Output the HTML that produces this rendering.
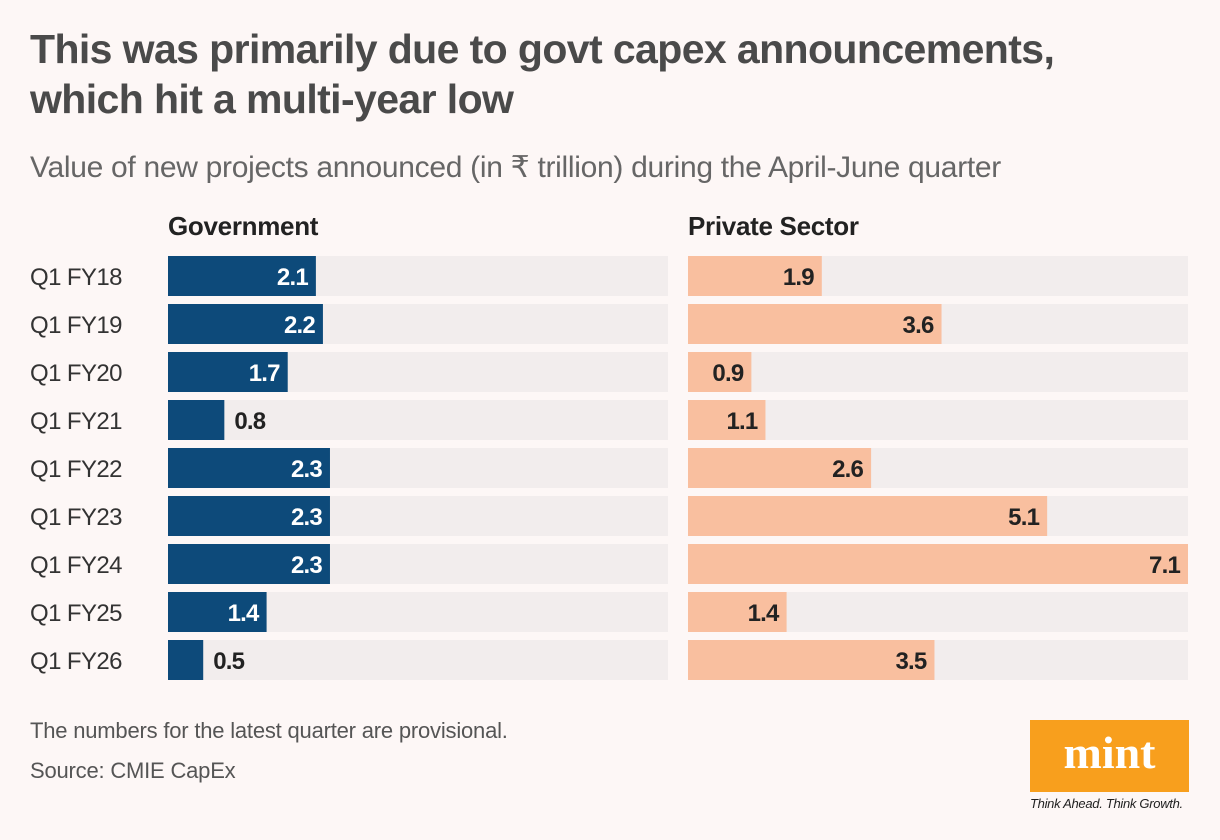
<!DOCTYPE html>
<html><head><meta charset="utf-8"><style>
body{margin:0;background:#fdf7f6;font-family:"Liberation Sans",sans-serif;}
#wrap{position:relative;width:1220px;height:840px;overflow:hidden;background:#fdf7f6;}
h1{position:absolute;left:30px;top:24px;margin:0;font-size:41px;line-height:50px;font-weight:bold;color:#4a4a4a;letter-spacing:-0.6px;white-space:nowrap;}
.sub{position:absolute;left:30px;top:150px;font-size:30px;color:#666;letter-spacing:-0.3px;white-space:nowrap;}
.note{position:absolute;left:30px;font-size:22px;color:#555;letter-spacing:-0.2px;}
</style></head><body>
<div id="wrap">
<h1>This was primarily due to govt capex announcements,<br>which hit a multi-year low</h1>
<div class="sub">Value of new projects announced (in ₹ trillion) during the April-June quarter</div>
<svg id="chart" width="1220" height="840" style="position:absolute;left:0;top:0"></svg>
<div class="note" style="top:718px">The numbers for the latest quarter are provisional.</div>
<div class="note" style="top:758px">Source: CMIE CapEx</div>
<div style="position:absolute;left:1030px;top:720px;width:159px;height:72px;background:#f89f1d;color:#fff;font-family:'Liberation Serif',serif;font-weight:bold;font-size:46px;text-align:center;line-height:66px">mint</div>
<div style="position:absolute;left:1030px;top:796px;font-size:13px;font-style:italic;color:#222;letter-spacing:-0.3px">Think Ahead. Think Growth.</div>
</div>
<script>
const categories=["Q1 FY18","Q1 FY19","Q1 FY20","Q1 FY21","Q1 FY22","Q1 FY23","Q1 FY24","Q1 FY25","Q1 FY26"];
const govValues=[2.1,2.2,1.7,0.8,2.3,2.3,2.3,1.4,0.5];
const privValues=[1.9,3.6,0.9,1.1,2.6,5.1,7.1,1.4,3.5];
const ns="http://www.w3.org/2000/svg";
const svg=document.getElementById('chart');
const maxV=Math.max(...govValues,...privValues);
const W=500,top0=256,step=48,bh=40;
const x=v=>v/maxV*W;
const y=i=>top0+i*step;
function mk(t,a){const e=document.createElementNS(ns,t);for(const k in a)e.setAttribute(k,a[k]);svg.appendChild(e);return e;}
function panel(x0,vals,title,color,tcol,name){
  const t=mk('text',{x:x0,y:235,'font-size':26,'font-weight':'bold',fill:'#222','letter-spacing':'-0.3'});t.textContent=title;
  
  
  vals.forEach((v,i)=>{
    const bg=mk('rect',{x:x0,y:y(i),width:W,height:bh,fill:'#f2eded'});
    
    
    const r=mk('rect',{x:x0,y:y(i),width:x(v),height:bh,fill:color});
    
    
    const inside=x(v)>=60;
    const l=mk('text',{x:inside?x0+x(v)-8:x0+x(v)+10,y:y(i)+29,'font-size':24,'font-weight':'bold','text-anchor':inside?'end':'start',fill:inside?tcol:'#222','letter-spacing':'-0.8'});
    l.textContent=v.toFixed(1);
    
    
  });
}
categories.forEach((c,i)=>{
  const t=mk('text',{x:30,y:y(i)+29,'font-size':24,fill:'#333','letter-spacing':'-0.6'});t.textContent=c;
  
  
});
panel(168,govValues,'Government','#0d4a7a','#fff','government');
panel(688,privValues,'Private Sector','#f9bf9f','#222','private');
</script>
</body></html>
